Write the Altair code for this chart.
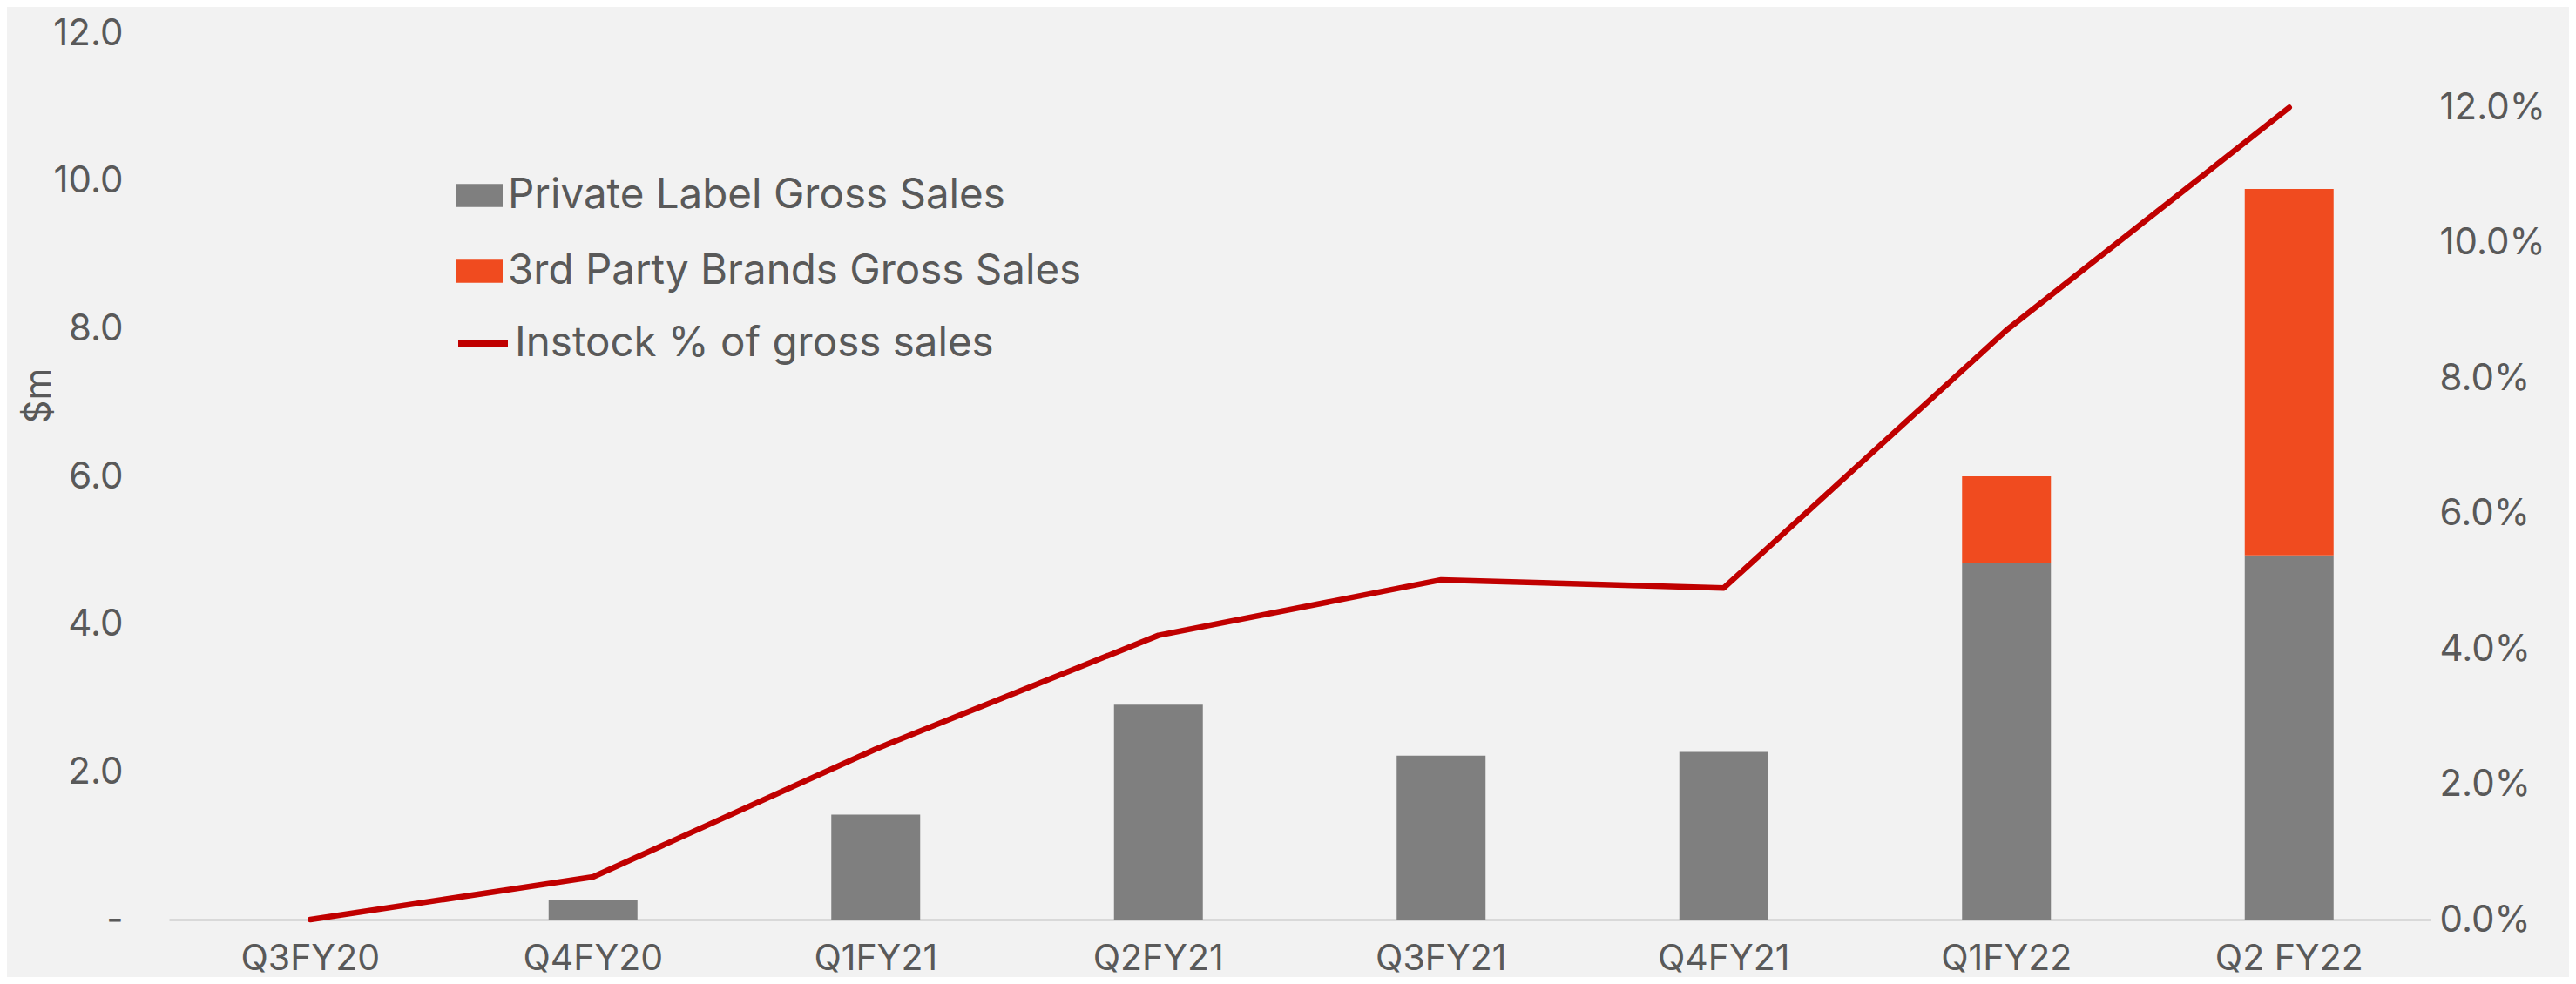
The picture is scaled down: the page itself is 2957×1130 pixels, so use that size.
import altair as alt
import pandas as pd

quarters = ["Q3FY20", "Q4FY20", "Q1FY21", "Q2FY21", "Q3FY21", "Q4FY21", "Q1FY22", "Q2 FY22"]
private_label = [0.0, 0.27, 1.42, 2.91, 2.22, 2.27, 4.82, 4.93]
third_party = [0.0, 0.0, 0.0, 0.0, 0.0, 0.0, 1.18, 4.96]
instock_pct = [0.0, 0.0063, 0.0252, 0.042, 0.0502, 0.049, 0.0871, 0.12]
series_names = ["Private Label Gross Sales", "3rd Party Brands Gross Sales"]
line_name = "Instock % of gross sales"
left_ticks = [0, 2, 4, 6, 8, 10, 12]
right_ticks = [0.0, 0.02, 0.04, 0.06, 0.08, 0.10, 0.12]

FONT = "Inter"
TXT = "#595959"
FS_AX = 42
FS_X = 41
FS_LEG = 47.5

rows = []
for i, q in enumerate(quarters):
    rows.append({"quarter": q, "series": series_names[0], "value": private_label[i], "ord": 0})
    rows.append({"quarter": q, "series": series_names[1], "value": third_party[i], "ord": 1})
bars_df = pd.DataFrame(rows)
line_df = pd.DataFrame({"quarter": quarters, "pct": instock_pct, "name": [line_name] * len(quarters)})

x_enc = alt.X(
    "quarter:N",
    sort=quarters,
    scale=alt.Scale(paddingInner=0, paddingOuter=0),
    axis=alt.Axis(
        title=None, labelAngle=0, ticks=False, domainColor="#d9d9d9", domainWidth=3,
        labelFont=FONT, labelFontSize=FS_X, labelColor=TXT, labelPadding=25,
    ),
)

bars = alt.Chart(bars_df).mark_bar(size=102).encode(
    x=x_enc,
    y=alt.Y(
        "value:Q",
        stack="zero",
        scale=alt.Scale(domain=[0, 12], nice=False),
        axis=alt.Axis(
            values=left_ticks, grid=False, ticks=False, domain=False,
            labelExpr="datum.value == 0 ? '-\u00a0\u00a0' : format(datum.value, '.1f')",
            labelFont=FONT, labelFontSize=FS_AX, labelColor=TXT, labelPadding=53,
            title="$m", titleFont=FONT, titleFontSize=FS_AX, titleFontWeight="normal",
            titleColor=TXT, titleX=-150, titleY=416, titleAlign="center",
            titleBaseline="middle", titleAngle=270,
        ),
    ),
    color=alt.Color(
        "series:N",
        scale=alt.Scale(domain=series_names, range=["#7f7f7f", "#f04b1f"]),
        legend=alt.Legend(
            title=None, orient="none", legendX=330, legendY=160,
            symbolType="M-1,-0.5H1V0.5H-1Z", symbolSize=2809, symbolStrokeWidth=0,
            labelFont=FONT, labelFontSize=FS_LEG, labelColor=TXT, labelOffset=6,
            rowPadding=37, padding=0, labelLimit=2000,
        ),
    ),
    order=alt.Order("ord:Q"),
)

line = alt.Chart(line_df).mark_line(strokeWidth=6.5, strokeCap="round", strokeJoin="round").encode(
    x=x_enc,
    y=alt.Y(
        "pct:Q",
        scale=alt.Scale(domain=[0, 0.131], nice=False),
        axis=alt.Axis(
            orient="right", values=right_ticks, format=".1%", grid=False, ticks=False,
            domain=False, labelFont=FONT, labelFontSize=FS_AX, labelColor=TXT,
            labelPadding=10, title=None,
        ),
    ),
    stroke=alt.Stroke(
        "name:N",
        scale=alt.Scale(domain=[line_name], range=["#c00000"]),
        legend=alt.Legend(
            title=None, orient="none", legendX=328, legendY=324,
            symbolType="stroke", symbolSize=3249, symbolStrokeWidth=7.5,
            labelFont=FONT, labelFontSize=FS_LEG, labelColor=TXT, labelOffset=4,
            padding=0, labelLimit=2000,
        ),
    ),
)

chart = (
    alt.layer(bars, line)
    .resolve_scale(y="independent", color="independent", stroke="independent")
    .properties(
        width=2596, height=1018,
        autosize=alt.AutoSizeParams(type="none"),
        padding={"left": 186, "top": 30, "right": 159, "bottom": 66},
    )
    .configure(background="#f2f2f2")
    .configure_view(strokeOpacity=0)
)

chart.save("out.html", embed_options={"renderer": "svg", "actions": False})
